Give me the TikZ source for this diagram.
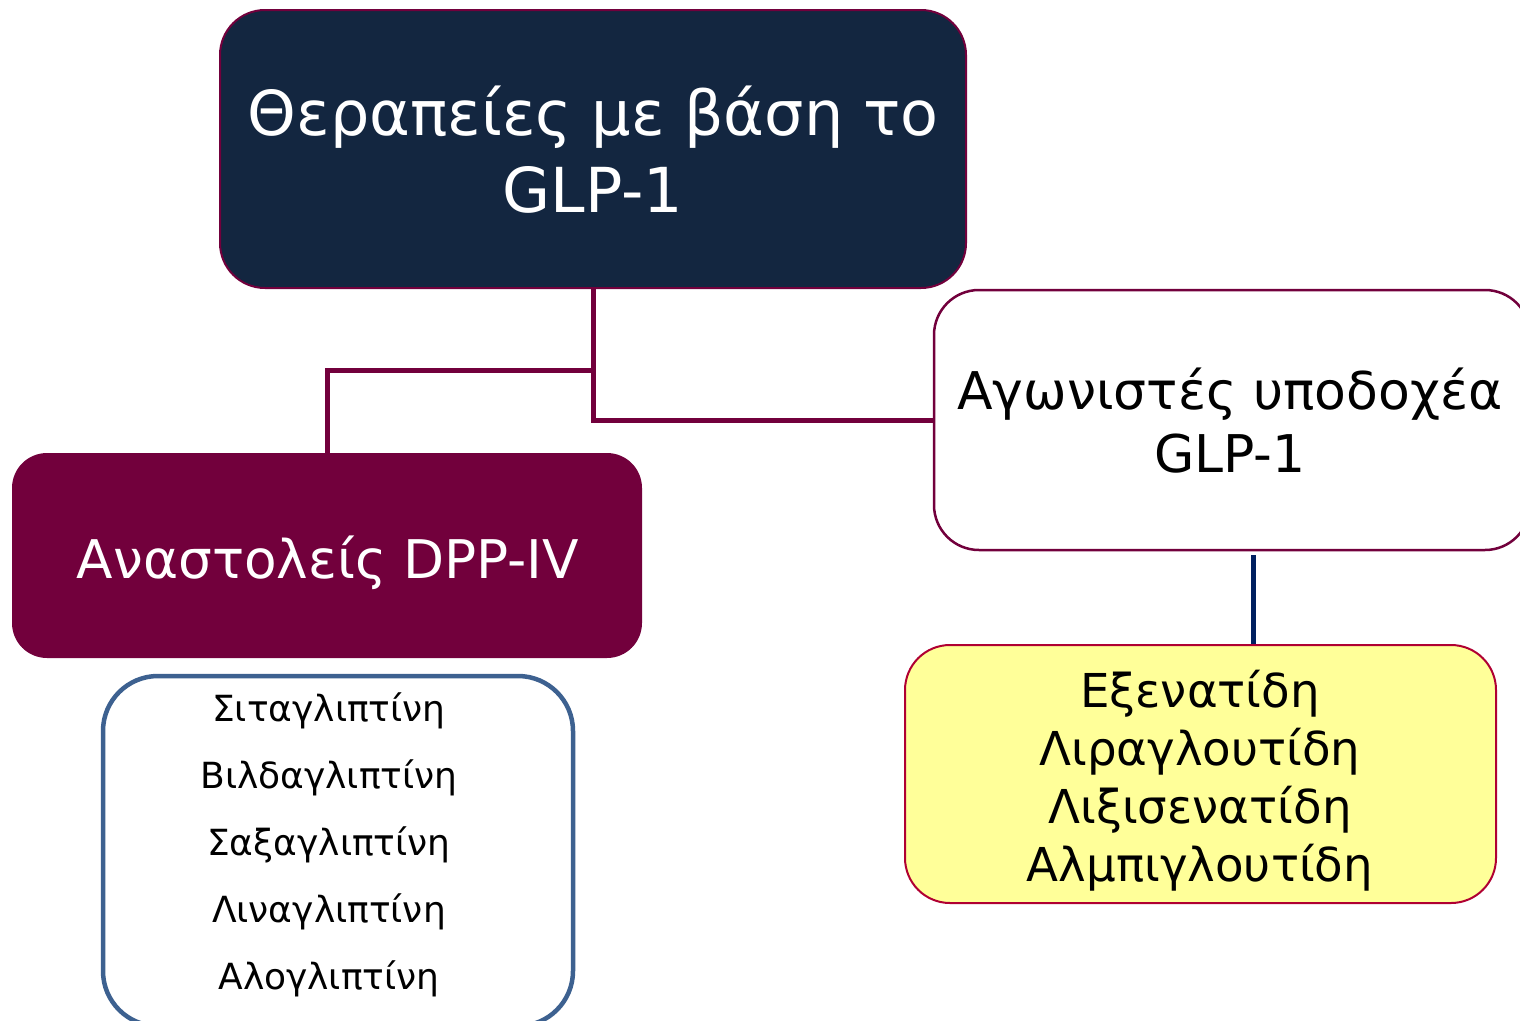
\documentclass[tikz,border=0pt]{standalone}
\usepackage{fontspec}
\setmainfont{DejaVu Sans}
\definecolor{navybox}{RGB}{19,38,64}
\definecolor{maroon}{RGB}{114,0,60}
\definecolor{yellowbox}{RGB}{255,255,153}
\definecolor{yellowline}{RGB}{176,0,50}
\definecolor{bluebox}{RGB}{61,97,144}
\definecolor{navyline}{RGB}{0,32,96}
\tikzset{
  box/.style={rectangle, inner sep=0pt},
  link/.style={draw=maroon, line width=5pt},
  link2/.style={draw=navyline, line width=5pt},
  txt/.style={inner sep=0pt, align=center},
}
\begin{document}
\begin{tikzpicture}[x=1pt,y=-1pt]
\useasboundingbox (0,0) rectangle (1520,1020);
\clip (0,0) rectangle (1520,1020);
% boxes
\node[box, fill=navybox, draw=maroon, line width=2pt, rounded corners=45pt,
      minimum width=746pt, minimum height=278pt] (top) at (593,149) {};
\node[box, fill=maroon, rounded corners=35pt,
      minimum width=630pt, minimum height=205pt] (dpp) at (327,555.5) {};
\node[box, fill=white, draw=maroon, line width=2.5pt, rounded corners=45pt,
      minimum width=596pt, minimum height=260pt] (agon) at (1232,420) {};
\node[box, fill=yellowbox, draw=yellowline, line width=2pt, rounded corners=45pt,
      minimum width=591pt, minimum height=258pt] (yel) at (1200.5,774) {};
\node[box, fill=white, draw=bluebox, line width=4.5pt, rounded corners=55pt,
      minimum width=470pt, minimum height=350pt] (blue) at (338,851) {};
% texts
\node[txt, text=white, font=\fontsize{62}{77}\selectfont] (toptxt) at (593,150)
  {Θεραπείες με βάση το\\GLP-1};
\node[txt, text=white, font=\fontsize{53.3}{62}\selectfont, anchor=base] (dpptxt) at (328,578)
  {Αναστολείς DPP-IV};
\node[txt, text=black, font=\fontsize{52}{63}\selectfont] (agontxt) at (1230,421)
  {Αγωνιστές υποδοχέα\\GLP-1};
\node[txt, text=black, font=\fontsize{46.7}{58}\selectfont] (yeltxt) at (1200,780.5)
  {Εξενατίδη\\Λιραγλουτίδη\\Λιξισενατίδη\\Αλμπιγλουτίδη};
\node[txt, text=black, font=\fontsize{36}{67}\selectfont] (bluetxt) at (329,845)
  {Σιταγλιπτίνη\\Βιλδαγλιπτίνη\\Σαξαγλιπτίνη\\Λιναγλιπτίνη\\Αλογλιπτίνη};
% connectors
\coordinate (j1) at (593,370);
\draw[link] (top.south) |- (agon.west);
\draw[link] (j1) -| (dpp.north);
\coordinate (b1) at (1253,555);
\draw[link2] (b1) -- (b1 |- yel.north);
\end{tikzpicture}
\end{document}
